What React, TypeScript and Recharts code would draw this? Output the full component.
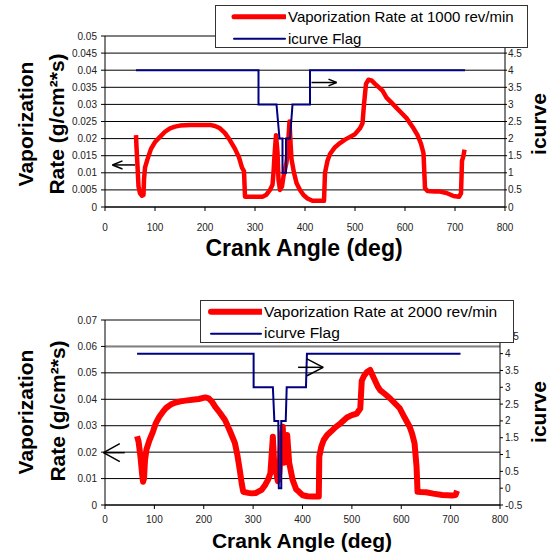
import React from "react";
import {
  ComposedChart,
  Line,
  XAxis,
  YAxis,
  CartesianGrid,
  ReferenceLine,
} from "recharts";

// ---------- data ----------
const angleTicks = [0, 100, 200, 300, 400, 500, 600, 700, 800];

const topLeftTicks = [0, 0.005, 0.01, 0.015, 0.02, 0.025, 0.03, 0.035, 0.04, 0.045, 0.05];
const topRightTicks = [0, 0.5, 1, 1.5, 2, 2.5, 3, 3.5, 4, 4.5];
const bottomLeftTicks = [0, 0.01, 0.02, 0.03, 0.04, 0.05, 0.06, 0.07];
const bottomRightTicks = [-0.5, 0, 0.5, 1, 1.5, 2, 2.5, 3, 3.5, 4, 4.5];

const seriesNameTopRate = "Vaporization Rate at 1000 rev/min";
const seriesNameBottomRate = "Vaporization Rate at 2000 rev/min";
const seriesNameFlag = "icurve Flag";

// [crank angle, vaporization rate] at 1000 rev/min
const rate1000: [number, number][] = [
  [62, 0.021], [63, 0.0175], [65, 0.012], [67, 0.006], [70, 0.004], [74, 0.0033], [77, 0.0035],
  [78, 0.008], [80, 0.0115], [85, 0.014], [92, 0.017], [100, 0.019], [110, 0.0205], [120, 0.022],
  [130, 0.023], [140, 0.0235], [150, 0.0238], [170, 0.024], [190, 0.024], [210, 0.024],
  [220, 0.0237], [230, 0.023], [240, 0.0216], [250, 0.0195], [260, 0.017], [268, 0.0145],
  [274, 0.0115], [278, 0.0105], [280, 0.003], [290, 0.003], [300, 0.003], [315, 0.003],
  [322, 0.0035], [330, 0.005], [335, 0.0065], [337, 0.01], [339, 0.015], [342, 0.021],
  [345, 0.016], [347, 0.008], [350, 0.005], [354, 0.006], [357, 0.009], [360, 0.011],
  [363, 0.013], [366, 0.018], [369, 0.025], [371, 0.019], [373, 0.014], [378, 0.01],
  [383, 0.007], [390, 0.005], [397, 0.0035], [405, 0.0025], [415, 0.0018], [425, 0.0018],
  [438, 0.0018], [440, 0.01], [445, 0.0135], [450, 0.0155], [460, 0.0175], [470, 0.0187],
  [480, 0.0197], [490, 0.0205], [500, 0.0213], [510, 0.023], [515, 0.0245], [518, 0.03],
  [522, 0.036], [527, 0.0372], [533, 0.037], [540, 0.036], [550, 0.0347], [555, 0.034],
  [563, 0.032], [573, 0.0305], [583, 0.029], [593, 0.0275], [603, 0.026], [610, 0.0245],
  [617, 0.023], [625, 0.021], [632, 0.0185], [637, 0.0157], [640, 0.0055], [645, 0.0047],
  [660, 0.0045], [670, 0.0045], [683, 0.0041], [697, 0.0032], [708, 0.003], [712, 0.004],
  [714, 0.0135], [717, 0.015], [719, 0.0168],
];

// [crank angle, icurve flag] at 1000 rev/min
const flag1000: [number, number][] = [
  [62, 4], [307, 4], [307, 3], [343, 3], [349, 2], [355, 2], [355, 1], [362, 1], [362, 2],
  [370, 2], [375, 3], [410, 3], [410, 4], [720, 4],
];

// [crank angle, vaporization rate] at 2000 rev/min
const rate2000: [number, number][] = [
  [65, 0.026], [68, 0.024], [72, 0.018], [75, 0.012], [77, 0.0088], [79, 0.01], [81, 0.017],
  [84, 0.021], [90, 0.0245], [97, 0.0277], [103, 0.031], [110, 0.0334], [117, 0.0352],
  [123, 0.0366], [133, 0.038], [143, 0.0388], [153, 0.0392], [163, 0.0395], [177, 0.0398],
  [190, 0.0401], [203, 0.0407], [210, 0.0403], [217, 0.039], [223, 0.0372], [233, 0.0348],
  [243, 0.0322], [253, 0.028], [263, 0.0235], [268, 0.019], [273, 0.0132], [277, 0.008],
  [280, 0.005], [290, 0.0046], [297, 0.0044], [305, 0.0045], [317, 0.0057], [324, 0.0075],
  [330, 0.0095], [335, 0.012], [340, 0.0258], [343, 0.0145], [347, 0.012], [350, 0.009],
  [353, 0.012], [357, 0.025], [360, 0.0296], [363, 0.016], [366, 0.018], [369, 0.0265],
  [373, 0.016], [380, 0.0095], [387, 0.006], [393, 0.005], [400, 0.0037], [410, 0.0033],
  [420, 0.0032], [433, 0.0032], [434, 0.0183], [438, 0.022], [443, 0.0246], [450, 0.0265],
  [457, 0.0277], [467, 0.0295], [477, 0.0309], [490, 0.0331], [500, 0.034], [510, 0.0346],
  [517, 0.0365], [520, 0.047], [525, 0.049], [530, 0.0502], [537, 0.0511], [542, 0.049],
  [547, 0.047], [552, 0.045], [557, 0.0435], [567, 0.042], [577, 0.0404], [587, 0.0385],
  [597, 0.0366], [607, 0.033], [617, 0.0296], [622, 0.027], [627, 0.0233], [631, 0.0145],
  [633, 0.005], [640, 0.0049], [650, 0.0048], [665, 0.0043], [683, 0.0038], [703, 0.0036],
  [710, 0.0038], [713, 0.0054],
];

// [crank angle, icurve flag] at 2000 rev/min
const flag2000: [number, number][] = [
  [65, 4], [301, 4], [301, 3], [340, 3], [343, 2], [351, 2], [352, 0], [357, 0], [357, 2],
  [366, 2], [368, 3], [407, 3], [409, 4], [720, 4],
];

// annotation arrows (data units): [tipX, tailX, y, headLen, headHalf]
const topArrows: [number, number, number, number, number][] = [
  [15, 60, 0.0123, 20, 0.0012],
  [463, 413, 0.0364, 16, 0.001],
];
const bottomArrows: [number, number, number, number, number][] = [
  [-3, 40, 0.0198, 33, 0.0034],
  [442, 391, 0.0521, 33, 0.0032],
];

const toRows = (pts: [number, number][]) => pts.map(([x, y]) => ({ x, y }));

const FONT = "'Liberation Sans', Arial, Helvetica, sans-serif";
const RED = "#ff0000";
const BLUE = "#000080";

const tickStyle = { fontSize: 10, fill: "#222", fontFamily: FONT };

function arrowSegments(arrows: [number, number, number, number, number][]) {
  const out: React.ReactNode[] = [];
  arrows.forEach(([tip, tail, y, len, half], i) => {
    const dir = tail > tip ? 1 : -1;
    const hx = tip + dir * len;
    const common = {
      yAxisId: "left",
      stroke: "#000",
      strokeWidth: 1.5,
      ifOverflow: "visible" as const,
    };
    out.push(
      <ReferenceLine key={`s${i}`} {...common} segment={[{ x: tip, y }, { x: tail, y }]} />,
      <ReferenceLine key={`a${i}`} {...common} segment={[{ x: tip, y }, { x: hx, y: y + half }]} />,
      <ReferenceLine key={`b${i}`} {...common} segment={[{ x: tip, y }, { x: hx, y: y - half }]} />
    );
  });
  return out;
}

function Legend({
  left, top, width, height, rateName, fontSize, rateWidth, sx1, sx2,
}: {
  left: number; top: number; width: number; height: number; rateName: string; fontSize: number;
  rateWidth: number; sx1: number; sx2: number;
}) {
  const rowH = height / 2;
  return (
    <div
      style={{
        position: "absolute", left, top, width, height, background: "#fff",
        border: "1px solid #333", boxSizing: "border-box", fontFamily: FONT, fontSize,
        color: "#000",
      }}
    >
      {[
        { name: rateName, color: RED, w: rateWidth },
        { name: seriesNameFlag, color: BLUE, w: 2 },
      ].map((e, i) => (
        <div key={i} style={{ position: "absolute", left: 0, top: i * rowH, height: rowH, display: "flex", alignItems: "center", whiteSpace: "nowrap" }}>
          <svg width={sx2 + 1} height={rowH} style={{ display: "block" }}>
            <line x1={sx1} x2={sx2} y1={rowH / 2} y2={rowH / 2} stroke={e.color} strokeWidth={e.w} strokeLinecap="round" />
          </svg>
          <span style={{ marginLeft: 2 }}>{e.name}</span>
        </div>
      ))}
    </div>
  );
}

function VTitle({ x, y, text, size }: { x: number; y: number; text: React.ReactNode; size: number }) {
  return (
    <text
      x={x} y={y} transform={`rotate(-90 ${x} ${y})`} textAnchor="middle" dominantBaseline="central"
      fontFamily={FONT} fontWeight="bold" fontSize={size} fill="#000"
    >
      {text}
    </text>
  );
}

export default function App() {
  return (
    <div style={{ position: "absolute", left: 0, top: 0, width: 560, height: 558, background: "#fff", fontFamily: FONT }}>
      {/* top chart */}
      <div style={{ position: "absolute", left: 0, top: 0 }}>
        <ComposedChart width={560} height={270} margin={{ top: 36, right: 0, bottom: 33, left: 0 }}>
          <CartesianGrid yAxisId="left" vertical={false} stroke="#000" strokeWidth={1} />
          <XAxis
            type="number" dataKey="x" domain={[0, 800]} ticks={angleTicks} allowDataOverflow
            height={30} tick={tickStyle} tickSize={4} tickMargin={13} stroke="#000" interval={0}
          />
          <YAxis
            yAxisId="left" type="number" domain={[0, 0.05]} ticks={topLeftTicks} allowDataOverflow
            width={105} tick={tickStyle} tickSize={4} tickMargin={4} stroke="#000" interval={0}
            tickFormatter={(v: number) => String(v)}
          />
          <YAxis
            yAxisId="right" orientation="right" type="number" domain={[0, 5]} ticks={topRightTicks}
            allowDataOverflow width={55} tick={tickStyle} tickSize={2} tickMargin={1} stroke="#000" interval={0}
            tickFormatter={(v: number) => String(v)}
          />
          <Line
            yAxisId="left" data={toRows(rate1000)} dataKey="y" name={seriesNameTopRate} type="linear"
            stroke={RED} strokeWidth={4.5} dot={false} isAnimationActive={false} strokeLinejoin="round"
          />
          <Line
            yAxisId="right" data={toRows(flag1000)} dataKey="y" name={seriesNameFlag} type="linear"
            stroke={BLUE} strokeWidth={2} dot={false} isAnimationActive={false}
          />
          {arrowSegments(topArrows)}
        </ComposedChart>
      </div>

      {/* bottom chart */}
      <div style={{ position: "absolute", left: 0, top: 280 }}>
        <ComposedChart width={560} height={278} margin={{ top: 40, right: 0, bottom: 23, left: 0 }}>
          <CartesianGrid yAxisId="left" vertical={false} stroke="#000" strokeWidth={1} />
          <ReferenceLine yAxisId="left" y={0.07} stroke="#808080" strokeWidth={2} />
          <ReferenceLine yAxisId="left" y={0.06} stroke="#808080" strokeWidth={2} />
          <XAxis
            type="number" dataKey="x" domain={[0, 800]} ticks={angleTicks} allowDataOverflow
            height={30} tick={tickStyle} tickSize={4} tickMargin={7} stroke="#000" interval={0}
          />
          <YAxis
            yAxisId="left" type="number" domain={[0, 0.07]} ticks={bottomLeftTicks} allowDataOverflow
            width={105} tick={tickStyle} tickSize={4} tickMargin={4} stroke="#000" interval={0}
            tickFormatter={(v: number) => String(v)}
          />
          <YAxis
            yAxisId="right" orientation="right" type="number" domain={[-0.5, 5]} ticks={bottomRightTicks}
            allowDataOverflow width={60} tick={tickStyle} tickSize={3} tickMargin={2} stroke="#000" interval={0}
            tickFormatter={(v: number) => String(v)}
          />
          <Line
            yAxisId="left" data={toRows(rate2000)} dataKey="y" name={seriesNameBottomRate} type="linear"
            stroke={RED} strokeWidth={6} dot={false} isAnimationActive={false} strokeLinejoin="round"
          />
          <Line
            yAxisId="right" data={toRows(flag2000)} dataKey="y" name={seriesNameFlag} type="linear"
            stroke={BLUE} strokeWidth={2} dot={false} isAnimationActive={false}
          />
          {arrowSegments(bottomArrows)}
        </ComposedChart>
      </div>

      {/* axis titles */}
      <svg width={560} height={558} style={{ position: "absolute", left: 0, top: 0, pointerEvents: "none" }}>
        <VTitle x={25} y={124} text="Vaporization" size={21} />
        <VTitle x={56} y={124} text="Rate (g/cm²*s)" size={21} />
        <VTitle x={538} y={124} text="icurve" size={21} />
        <text x={304} y={248} textAnchor="middle" dominantBaseline="central" fontFamily={FONT} fontWeight="bold" fontSize={23}>
          Crank Angle (deg)
        </text>

        <VTitle x={25} y={412} text="Vaporization" size={21} />
        <VTitle x={57} y={411} text="Rate (g/cm²*s)" size={21} />
        <VTitle x={538} y={412} text="icurve" size={21} />
        <text x={302} y={540} textAnchor="middle" dominantBaseline="central" fontFamily={FONT} fontWeight="bold" fontSize={21}>
          Crank Angle (deg)
        </text>
      </svg>

      <Legend left={215} top={5} width={313} height={43} rateName={seriesNameTopRate} fontSize={15} rateWidth={5} sx1={18} sx2={69} />
      <Legend left={200} top={300} width={314} height={43} rateName={seriesNameBottomRate} fontSize={15.5} rateWidth={6} sx1={10} sx2={60} />
    </div>
  );
}
